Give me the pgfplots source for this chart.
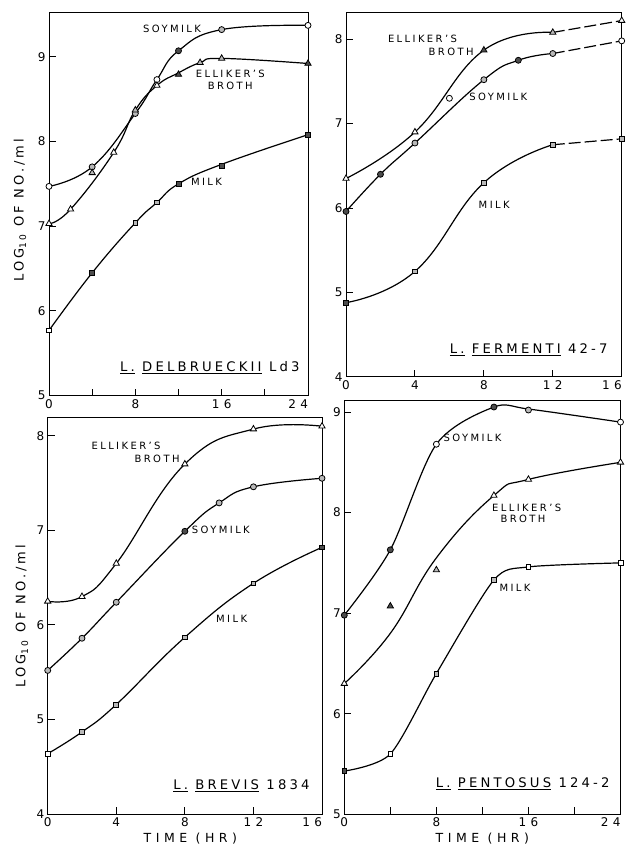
\documentclass[border=0pt]{standalone}
\usepackage{fontspec}
\setmainfont{DejaVu Sans}[LetterSpace=24]
\newfontfamily\widefont{DejaVu Sans}[LetterSpace=36]
\newfontfamily\titlefont{DejaVu Sans}[LetterSpace=24]
\usepackage{pgfplots}
\pgfplotsset{compat=1.18}
\tikzset{
  lab/.style={font=\fontsize{10}{11}\selectfont, inner sep=0pt},
  ttl/.style={font=\titlefont\fontsize{13.2}{14}\selectfont, inner sep=0pt},
}
\pgfplotsset{
  panel/.style={
    scale only axis, anchor=south west,
    axis line style={line width=1pt},
    every tick/.style={line width=1pt, black},
    tick align=inside, xtick pos=lower, ytick pos=left,
    major tick length=7pt, minor tick length=7pt,
    /pgf/number format/assume math mode=true,
    ticklabel style={font=\widefont\fontsize{12}{12}\selectfont},
    clip=false,
  },
  curve/.style={black, smooth, tension=0.75, no markers, line width=1.2pt},
  dcurve/.style={black, no markers, line width=1.2pt, dash pattern=on 12pt off 4pt},
  pts/.style={black, only marks, scatter, point meta=explicit symbolic,
    mark options={draw=black, line width=0.8pt, solid},
    scatter/classes={o={fill=white}, g={fill=gray!55}, f={fill=black!70}}},
  ylab/.style={ylabel={LOG\textsubscript{10} OF NO./ml},
    ylabel style={font=\fontsize{13}{13}\selectfont, anchor=center}},
  xlab/.style={xlabel={TIME (HR)},
    xlabel style={at={(axis description cs:0.5,0)}, anchor=base, yshift=-27.7pt, font=\widefont\fontsize{12.5}{12.5}\selectfont}},
}
\begin{document}
\begin{tikzpicture}[x=1pt,y=1pt]
\useasboundingbox (0,0) rectangle (625,845);
% ---------------- Top left: L. delbrueckii
\begin{axis}[panel, ylab, at={(49pt,449.3pt)}, width=259pt, height=382.7pt,
  xmin=0, xmax=24, ymin=5, ymax=9.516,
  xtick={0,8,16,24}, xticklabels={0,8,16,\makebox[0pt][r]{24}},
  minor xtick={4,12,20}, ytick={5,6,7,8,9},
  ylabel style={at={(axis description cs:-0.112,0.485)}}]
\addplot[curve] coordinates {(0,7.47)(4,7.70)(8,8.33)(10,8.73)(12,9.07)(16,9.32)(24,9.37)};
\addplot[curve] coordinates {(0,7.03)(2,7.20)(6,7.87)(8,8.37)(10,8.66)(12,8.81)(14,8.93)(16,8.98)(24,8.92)};
\addplot[curve] coordinates {(0,5.77)(4,6.45)(8,7.04)(10,7.28)(12,7.50)(16,7.73)(24,8.08)};
\addplot[pts, mark=*, mark size=3pt] coordinates {(0,7.47)[o](4,7.70)[g](8,8.33)[g](10,8.73)[o](12,9.07)[f](16,9.32)[g](24,9.37)[o]};
\addplot[pts, mark=triangle*, mark size=3.6pt] coordinates {(0,7.03)[o](2,7.20)[o](4,7.63)[g](6,7.87)[o](8,8.37)[g](10,8.66)[o](12,8.79)[f](14,8.93)[g](16,8.98)[g](24,8.92)[f]};
\addplot[pts, mark=square*, mark size=2.4pt] coordinates {(0,5.77)[o](4,6.45)[f](8,7.04)[g](10,7.28)[g](12,7.50)[f](16,7.71)[f](24,8.08)[f]};
\node[lab] at (axis cs:11.4,9.33) {SOYMILK};
\node[lab, align=center] at (axis cs:16.8,8.73) {ELLIKER'S\\[1pt]BROTH};
\node[lab] at (axis cs:14.6,7.52) {MILK};
\node[ttl] at (axis cs:14.9,5.33) {\underline{L.} \underline{DELBRUECKII} Ld3};
\end{axis}
% ---------------- Top right: L. fermenti
\begin{axis}[panel, at={(346pt,468pt)}, width=275.7pt, height=364pt,
  xmin=0, xmax=16, ymin=4, ymax=8.31,
  xtick={0,4,8,12,16}, xticklabels={0,4,8,12,\makebox[0pt][r]{16}},
  ytick={4,5,6,7,8}]
\addplot[curve] coordinates {(0,6.35)(4,6.90)(8,7.87)(12,8.08)};
\addplot[dcurve] coordinates {(12,8.08)(16,8.22)};
\addplot[curve] coordinates {(0,5.96)(2,6.40)(4,6.77)(8,7.52)(10,7.75)(12,7.83)};
\addplot[dcurve] coordinates {(12,7.83)(16,7.98)};
\addplot[curve] coordinates {(0,4.88)(4,5.25)(8,6.30)(12,6.75)};
\addplot[dcurve] coordinates {(12,6.75)(16,6.82)};
\addplot[pts, mark=triangle*, mark size=3.6pt] coordinates {(0,6.35)[o](4,6.90)[o](8,7.87)[f](12,8.08)[g](16,8.22)[o]};
\addplot[pts, mark=*, mark size=3pt] coordinates {(0,5.96)[f](2,6.40)[f](4,6.77)[g](6,7.30)[o](8,7.52)[g](10,7.75)[f](12,7.83)[g](16,7.98)[o]};
\addplot[pts, mark=square*, mark size=2.4pt] coordinates {(0,4.88)[f](4,5.25)[g](8,6.30)[g](12,6.75)[g](16,6.82)[g]};
\node[lab] at (axis cs:4.44,8.0) {ELLIKER'S};
\node[lab] at (axis cs:6.1,7.85) {BROTH};
\node[lab] at (axis cs:8.84,7.32) {SOYMILK};
\node[lab] at (axis cs:8.6,6.04) {MILK};
\node[ttl] at (axis cs:10.6,4.32) {\underline{L.} \underline{FERMENTI} 42-7};
\end{axis}
% ---------------- Bottom left: L. brevis
\begin{axis}[panel, ylab, xlab, at={(47.7pt,30.7pt)}, width=274.3pt, height=396.3pt,
  xmin=0, xmax=16, ymin=4, ymax=8.187,
  xtick={0,4,8,12,16}, xticklabels={0,4,8,12,\makebox[0pt][r]{16}},
  ytick={4,5,6,7,8},
  ylabel style={at={(axis description cs:-0.094,0.5)}},
  xlabel style={at={(axis description cs:0.52,0)}}]
\addplot[curve] coordinates {(0,6.25)(2,6.30)(4,6.65)(8,7.70)(12,8.07)(16,8.10)};
\addplot[curve] coordinates {(0,5.52)(2,5.86)(4,6.24)(8,6.99)(10,7.29)(12,7.46)(16,7.55)};
\addplot[curve] coordinates {(0,4.64)(2,4.87)(4,5.16)(8,5.87)(12,6.44)(16,6.82)};
\addplot[pts, mark=triangle*, mark size=3.6pt] coordinates {(0,6.25)[o](2,6.30)[o](4,6.65)[o](8,7.70)[o](12,8.07)[o](16,8.10)[o]};
\addplot[pts, mark=*, mark size=3pt] coordinates {(0,5.52)[g](2,5.86)[g](4,6.24)[g](8,6.99)[f](10,7.29)[g](12,7.46)[g](16,7.55)[g]};
\addplot[pts, mark=square*, mark size=2.4pt] coordinates {(0,4.64)[o](2,4.87)[g](4,5.16)[g](8,5.87)[g](12,6.44)[g](16,6.82)[f]};
\node[lab] at (axis cs:4.57,7.89) {ELLIKER'S};
\node[lab] at (axis cs:6.38,7.76) {BROTH};
\node[lab] at (axis cs:10.1,7.0) {SOYMILK};
\node[lab] at (axis cs:10.73,6.07) {MILK};
\node[ttl] at (axis cs:11.3,4.3) {\underline{L.} \underline{BREVIS} 1834};
\end{axis}
% ---------------- Bottom right: L. pentosus
\begin{axis}[panel, xlab, at={(344.3pt,30.7pt)}, width=276.2pt, height=413.3pt,
  xmin=0, xmax=24, ymin=5, ymax=9.11,
  xtick={0,8,16,24}, xticklabels={0,8,16,\makebox[0pt][r]{24}},
  minor xtick={4,12,20}, ytick={5,6,7,8,9}]
\addplot[curve, tension=0.5] coordinates {(0,6.98)(4,7.63)(8,8.68)(13,9.05)(16,9.03)(24,8.90)};
\addplot[curve] coordinates {(0,6.30)(4,6.80)(8,7.55)(13,8.17)(16,8.33)(24,8.50)};
\addplot[curve, tension=0.45] coordinates {(0,5.43)(4,5.60)(8,6.40)(13,7.33)(16,7.46)(24,7.50)};
\addplot[pts, mark=*, mark size=3pt] coordinates {(0,6.98)[f](4,7.63)[f](8,8.68)[o](13,9.05)[f](16,9.02)[g](24,8.90)[o]};
\addplot[pts, mark=triangle*, mark size=3.6pt] coordinates {(0,6.30)[o](4,7.07)[f](8,7.43)[g](13,8.17)[o](16,8.33)[o](24,8.50)[o]};
\addplot[pts, mark=square*, mark size=2.4pt] coordinates {(0,5.43)[f](4,5.60)[o](8,6.40)[g](13,7.33)[g](16,7.46)[o](24,7.50)[o]};
\node[lab] at (axis cs:11.14,8.74) {SOYMILK};
\node[lab] at (axis cs:15.85,8.05) {ELLIKER'S};
\node[lab] at (axis cs:15.53,7.94) {BROTH};
\node[lab] at (axis cs:14.83,7.25) {MILK};
\node[ttl] at (axis cs:15.5,5.30) {\underline{L.} \underline{PENTOSUS} 124-2};
\end{axis}
\end{tikzpicture}
\end{document}
